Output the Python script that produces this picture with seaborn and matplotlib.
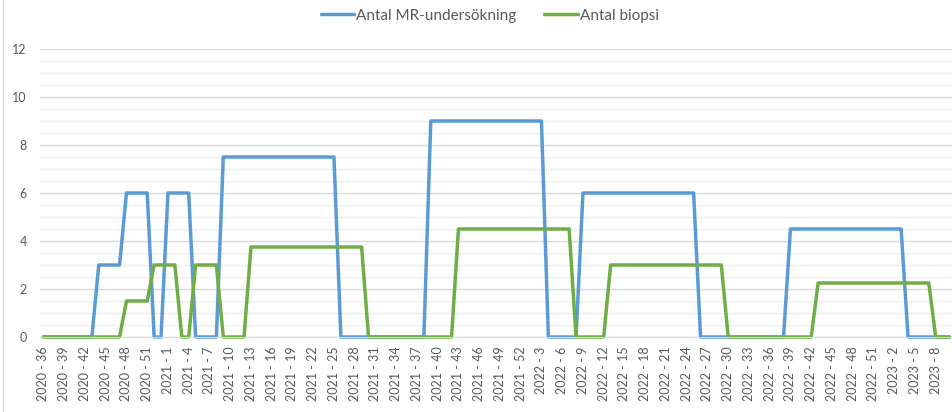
import numpy as np
import pandas as pd
import seaborn as sns
from matplotlib import pyplot as plt
from matplotlib.lines import Line2D

# ISO weeks from 2020-36 to 2023-10 (2020 has 53 weeks)
years = [2020, 2021, 2022, 2023]
first_week = {2020: 36, 2021: 1, 2022: 1, 2023: 1}
last_week = {2020: 53, 2021: 52, 2022: 52, 2023: 10}
weeks = []
for y in years:
    for w in range(first_week[y], last_week[y] + 1):
        weeks.append(f"{y} - {w}")

mr = [0, 0, 0, 0, 0, 0, 0, 0, 3, 3, 3, 3, 6, 6, 6, 6, 0, 0, 6, 6,
      6, 6, 0, 0, 0, 0, 7.5, 7.5, 7.5, 7.5, 7.5, 7.5, 7.5, 7.5, 7.5, 7.5, 7.5, 7.5, 7.5, 7.5,
      7.5, 7.5, 7.5, 0, 0, 0, 0, 0, 0, 0, 0, 0, 0, 0, 0, 0, 9, 9, 9, 9,
      9, 9, 9, 9, 9, 9, 9, 9, 9, 9, 9, 9, 9, 0, 0, 0, 0, 0, 6, 6,
      6, 6, 6, 6, 6, 6, 6, 6, 6, 6, 6, 6, 6, 6, 6, 0, 0, 0, 0, 0,
      0, 0, 0, 0, 0, 0, 0, 0, 4.5, 4.5, 4.5, 4.5, 4.5, 4.5, 4.5, 4.5, 4.5, 4.5, 4.5, 4.5,
      4.5, 4.5, 4.5, 4.5, 4.5, 0, 0, 0, 0, 0, 0, 0]

biopsi = [0, 0, 0, 0, 0, 0, 0, 0, 0, 0, 0, 0, 1.5, 1.5, 1.5, 1.5, 3, 3, 3, 3,
          0, 0, 3, 3, 3, 3, 0, 0, 0, 0, 3.75, 3.75, 3.75, 3.75, 3.75, 3.75, 3.75, 3.75, 3.75, 3.75,
          3.75, 3.75, 3.75, 3.75, 3.75, 3.75, 3.75, 0, 0, 0, 0, 0, 0, 0, 0, 0, 0, 0, 0, 0,
          4.5, 4.5, 4.5, 4.5, 4.5, 4.5, 4.5, 4.5, 4.5, 4.5, 4.5, 4.5, 4.5, 4.5, 4.5, 4.5, 4.5, 0, 0, 0,
          0, 0, 3, 3, 3, 3, 3, 3, 3, 3, 3, 3, 3, 3, 3, 3, 3, 3, 3, 0,
          0, 0, 0, 0, 0, 0, 0, 0, 0, 0, 0, 0, 2.25, 2.25, 2.25, 2.25, 2.25, 2.25, 2.25, 2.25,
          2.25, 2.25, 2.25, 2.25, 2.25, 2.25, 2.25, 2.25, 2.25, 0, 0, 0]

series_names = ["Antal MR-undersökning", "Antal biopsi"]
colors = ["#5B9BD5", "#70AD47"]

sns.set_style("white")
plt.rcParams['font.family'] = ['Lato', 'DejaVu Sans']

fig = plt.figure(figsize=(9.53, 4.12), dpi=100)
ax = fig.add_axes([40 / 953, 75 / 412, 913 / 953, 288 / 412])

x = np.arange(len(weeks))
for vals, name, col in zip([mr, biopsi], series_names, colors):
    sns.lineplot(x=x, y=vals, color=col, linewidth=2.5, label=name, ax=ax,
                 clip_on=False, solid_joinstyle="round", solid_capstyle="round")

ax.set_xlim(-0.5, len(weeks) - 0.5)
ax.set_ylim(0, 12)
ax.set_yticks(np.arange(0, 13, 2))
ax.set_yticks(np.arange(0, 12.01, 0.5), minor=True)
ax.grid(which="major", axis="y", color="#D9D9D9", linewidth=1.0)
ax.grid(which="minor", axis="y", color="#EFEFEF", linewidth=1.0)
ax.set_axisbelow(True)

ax.set_xticks(x[::3])
ax.set_xticklabels(weeks[::3], rotation=90)
ax.tick_params(axis="both", length=0, labelsize=9, labelcolor="#595959")
ax.tick_params(axis="x", pad=7)
ax.tick_params(axis="y", pad=9.5)

for s in ["top", "right", "left"]:
    ax.spines[s].set_visible(False)
ax.spines["bottom"].set_color("#D9D9D9")

ax.legend_.remove()
handles = [Line2D([0], [0], color=c, linewidth=2.5) for c in colors]
fig.legend(handles, series_names, loc="upper center", bbox_to_anchor=(0.514, 1.012),
           ncol=2, frameon=False, fontsize=11, handlelength=2.2, handletextpad=0.15,
           columnspacing=1.8, labelcolor="#595959")

fig.add_artist(Line2D([3 / 953, 3 / 953], [0, 1], transform=fig.transFigure,
                      color="#D9D9D9", linewidth=1))

fig.savefig("out.png", dpi=100)
